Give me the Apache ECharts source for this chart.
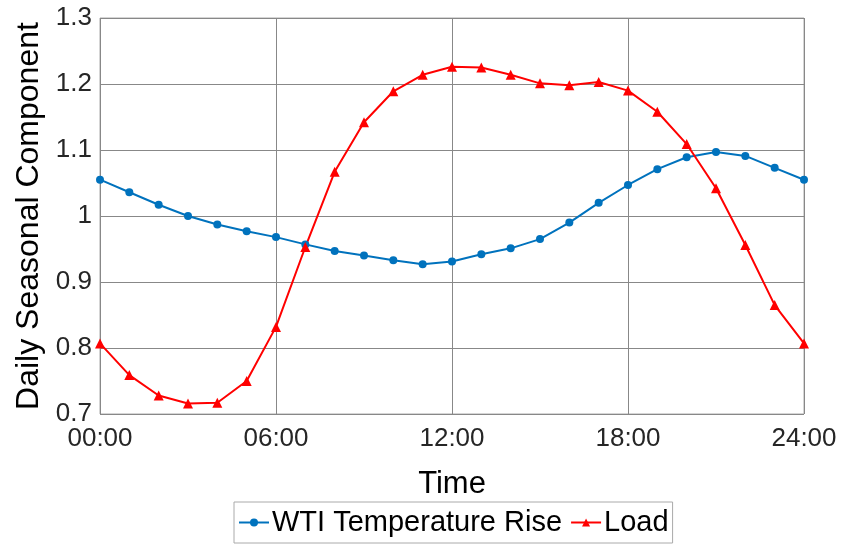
<!DOCTYPE html>
<html>
<head>
<meta charset="utf-8">
<script src="https://cdn.jsdelivr.net/npm/echarts@6/dist/echarts.min.js"></script>
<style>
  html, body { margin: 0; padding: 0; background: #fff; }
  #chart { width: 843px; height: 546px; }
</style>
</head>
<body>
<div id="chart"></div>
<script>
// hours of day, 0..24
var hours = [0, 1, 2, 3, 4, 5, 6, 7, 8, 9, 10, 11, 12, 13, 14, 15, 16, 17, 18, 19, 20, 21, 22, 23, 24]
var wtiRise = [1.055, 1.036, 1.017, 1.0, 0.987, 0.977, 0.968, 0.957, 0.947, 0.94, 0.933, 0.927, 0.931,
  0.942, 0.951, 0.965, 0.99, 1.02, 1.047, 1.071, 1.089, 1.097, 1.091, 1.073, 1.055]
var load = [0.807, 0.759, 0.728, 0.716, 0.717, 0.75, 0.832, 0.953, 1.067, 1.142, 1.189, 1.214, 1.226,
  1.225, 1.214, 1.201, 1.198, 1.203, 1.19, 1.158, 1.109, 1.042, 0.956, 0.865, 0.807]
var xTickLabels = { 0: '00:00', 6: '06:00', 12: '12:00', 18: '18:00', 24: '24:00' }

var font = 'Liberation Sans, Arial, sans-serif'
var chart = echarts.init(document.getElementById('chart'))

function pairs(vals) {
  return hours.map(function (h, i) { return [h, vals[i]] })
}

chart.setOption({
  animation: false,
  grid: {
    left: 100,
    right: 39,
    top: 18,
    bottom: 132,
    show: true,
    borderColor: '#aaa',
    borderWidth: 1
  },
  legend: {
    data: ['WTI Temperature Rise', 'Load'],
    left: 234,
    top: 502,
    itemGap: 8,
    itemWidth: 30,
    itemHeight: 10,
    padding: [6, 4, 6, 4],
    borderColor: '#aaa',
    borderWidth: 1,
    textStyle: { fontFamily: font, fontSize: 29, color: '#000', padding: [0, 0, 0, -2] }
  },
  xAxis: {
    type: 'value',
    min: 0,
    max: 24,
    interval: 6,
    name: 'Time',
    nameLocation: 'middle',
    nameGap: 55,
    nameTextStyle: { fontFamily: font, fontSize: 31, color: '#000' },
    axisLine: { show: false },
    axisTick: { show: false },
    axisLabel: {
      fontFamily: font,
      fontSize: 26,
      color: '#262626',
      margin: 12,
      formatter: function (v) { return xTickLabels[v] }
    },
    splitLine: { show: true, lineStyle: { color: '#888', width: 1 } }
  },
  yAxis: {
    type: 'value',
    min: 0.7,
    max: 1.3,
    interval: 0.1,
    name: 'Daily Seasonal Component',
    nameLocation: 'middle',
    nameGap: 53,
    nameTextStyle: { fontFamily: font, fontSize: 32, color: '#000' },
    axisLine: { show: false },
    axisTick: { show: false },
    axisLabel: {
      fontFamily: font,
      fontSize: 26,
      color: '#262626',
      margin: 8,
      formatter: function (v) { return Math.round(v * 10) / 10 + '' }
    },
    splitLine: { show: true, lineStyle: { color: '#888', width: 1 } }
  },
  series: [
    {
      name: 'WTI Temperature Rise',
      type: 'line',
      data: pairs(wtiRise),
      symbol: 'circle',
      symbolSize: 8,
      itemStyle: { color: '#0072BD' },
      lineStyle: { color: '#0072BD', width: 2 }
    },
    {
      name: 'Load',
      type: 'line',
      data: pairs(load),
      symbol: 'triangle',
      symbolSize: 10,
      itemStyle: { color: '#FF0000' },
      lineStyle: { color: '#FF0000', width: 2 }
    }
  ]
})
</script>
</body>
</html>
